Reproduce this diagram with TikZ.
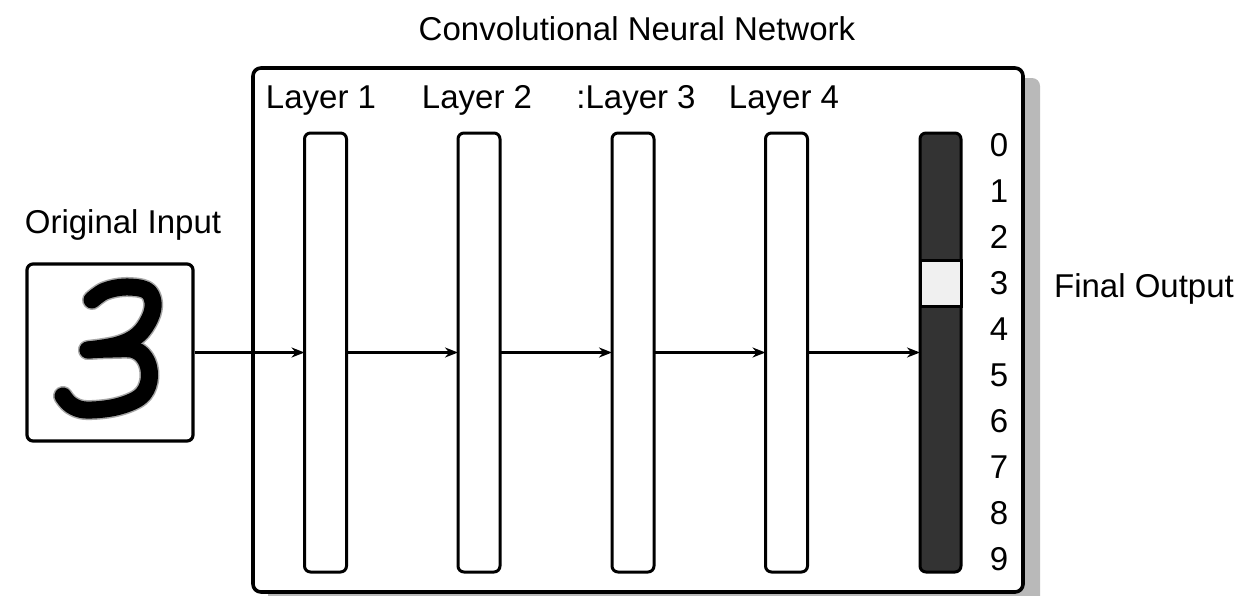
\documentclass[tikz,border=0pt]{standalone}
\usepackage{fontspec}
\setmainfont{Liberation Sans}
\usetikzlibrary{arrows.meta}
\begin{document}
\begin{tikzpicture}[x=1pt,y=-1pt,
  lbl/.style={font=\fontsize{33}{36}\selectfont, inner sep=0pt, anchor=base},
  bar/.style={draw=black, line width=3pt, rounded corners=6pt, fill=white, minimum width=42pt, minimum height=439pt, inner sep=0pt, outer sep=0pt},
  arr/.style={line width=3pt, -{Stealth[length=13pt,width=10pt]}},
  digit/.style={lbl},
  stroke3/.style={line cap=round, line join=round}]
\useasboundingbox (0,0) rectangle (1241,595);
% shadow
\fill[gray!55, rounded corners=8pt] (268,78) rectangle (1040,610);
% main box
\node[draw=black, line width=3.6pt, rounded corners=8pt, fill=white, minimum width=770pt, minimum height=524pt, inner sep=0pt] (main) at (638,330) {};
\node[lbl] (title) at (637,40) {Convolutional Neural Network};
% input
\node[lbl] (inlbl) at (123,233) {Original Input};
\node[draw=black, line width=3.2pt, rounded corners=6pt, fill=white, minimum width=166pt, minimum height=177pt, inner sep=0pt] (in) at (110,352.5) {};
\draw[stroke3, line width=20pt, gray!70]
  plot[smooth, tension=0.6] coordinates {(92,300) (105,291) (125,287) (146,290) (153,302) (150,318) (138,335) (118,345) (88,350)};
\draw[stroke3, line width=20pt, gray!70]
  plot[smooth, tension=0.6] coordinates {(88,350) (112,349) (135,350) (147,362) (149,381) (140,397) (116,407) (86,410) (71,405) (63,396)};
\draw[stroke3, line width=17pt, black]
  plot[smooth, tension=0.6] coordinates {(92,300) (105,291) (125,287) (146,290) (153,302) (150,318) (138,335) (118,345) (88,350)};
\draw[stroke3, line width=17pt, black]
  plot[smooth, tension=0.6] coordinates {(88,350) (112,349) (135,350) (147,362) (149,381) (140,397) (116,407) (86,410) (71,405) (63,396)};
% layers
\node[bar] (l1) at (325.5,352.5) {};
\node[bar] (l2) at (479,352.5) {};
\node[bar] (l3) at (633,352.5) {};
\node[bar] (l4) at (786.5,352.5) {};
\node[bar, fill=black!80, minimum width=41pt] (out) at (940.5,352.5) {};
\node[draw=black, line width=3pt, fill=black!6, minimum width=41pt, minimum height=46pt, inner sep=0pt] (hi) at (940.5,283) {};
\node[lbl] (t1) at (321,108) {Layer 1};
\node[lbl] (t2) at (477,108) {Layer 2};
\node[lbl] (t3) at (636,108) {:Layer 3};
\node[lbl] (t4) at (784,108) {Layer 4};
% arrows
\draw[arr] (in.east) -- (l1.west);
\draw[arr] (l1.east) -- (l2.west);
\draw[arr] (l2.east) -- (l3.west);
\draw[arr] (l3.east) -- (l4.west);
\draw[arr] (l4.east) -- (out.west);
% digits
\foreach \d in {0,...,9} {
  \node[digit] (d\d) at (999,{156+46*\d}) {\d};
}
\node[lbl] (final) at (1144,297) {Final Output};
\end{tikzpicture}
\end{document}
